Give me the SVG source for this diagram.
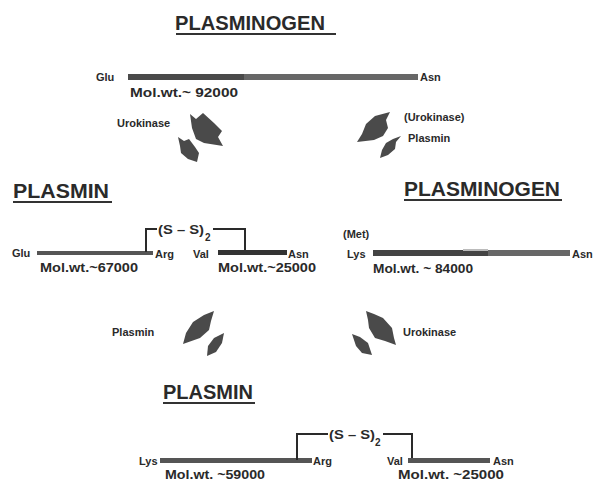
<svg xmlns="http://www.w3.org/2000/svg" width="597" height="481" viewBox="0 0 597 481">
<style>
.t{font-family:"Liberation Sans",Arial,sans-serif;font-weight:bold;font-size:21px;fill:#2a2a2a}
.l{font-family:"Liberation Sans",Arial,sans-serif;font-weight:bold;font-size:11px;fill:#2a2a2a}
.m{font-family:"Liberation Sans",Arial,sans-serif;font-weight:bold;font-size:12px;fill:#2a2a2a}
.ss{font-family:"Liberation Sans",Arial,sans-serif;font-weight:bold;font-size:13px;fill:#2a2a2a}
.s{font-family:"Liberation Sans",Arial,sans-serif;font-weight:bold;font-size:10px;fill:#2a2a2a}
.u{stroke:#333;stroke-width:2}
.br{fill:none;stroke:#2a2a2a;stroke-width:2}
.ar{fill:#4a4a4a}
</style>
<rect width="597" height="481" fill="#fff"/>
<g id="plasminogen-glu">
<text class="t" x="175" y="30" textLength="150" lengthAdjust="spacingAndGlyphs">PLASMINOGEN</text>
<line class="u" x1="176" y1="34" x2="336" y2="34"/>
<text class="l" x="96" y="81">Glu</text>
<rect x="128" y="74" width="116" height="6" fill="#4a4a4a"/>
<rect x="244" y="74" width="174" height="6" fill="#676767"/>
<text class="l" x="420" y="81">Asn</text>
<text class="m" x="130" y="97" textLength="108" lengthAdjust="spacingAndGlyphs">Mol.wt.~ 92000</text>
</g>
<g id="plasmin-glu">
<text class="t" x="13" y="198" textLength="96" lengthAdjust="spacingAndGlyphs">PLASMIN</text>
<line class="u" x1="13" y1="202" x2="112" y2="202"/>
<text class="l" x="12" y="257">Glu</text>
<rect x="37" y="251" width="116" height="4" fill="#555"/>
<text class="l" x="155" y="258">Arg</text>
<text class="m" x="40" y="272" textLength="98" lengthAdjust="spacingAndGlyphs">Mol.wt.~67000</text>
<path class="br" d="M146,252 V229 H157"/>
<text class="ss" x="158" y="234" textLength="46" lengthAdjust="spacingAndGlyphs">(S – S)</text>
<text class="s" x="205" y="241">2</text>
<path class="br" d="M213,229 H245 V252"/>
<text class="l" x="193" y="258">Val</text>
<rect x="218" y="250" width="69" height="5" fill="#333"/>
<text class="l" x="288" y="258">Asn</text>
<text class="m" x="218" y="272" textLength="98" lengthAdjust="spacingAndGlyphs">Mol.wt.~25000</text>
</g>
<g id="plasminogen-lys">
<text class="t" x="404" y="196" textLength="156" lengthAdjust="spacingAndGlyphs">PLASMINOGEN</text>
<line class="u" x1="404" y1="200" x2="562" y2="200"/>
<text class="l" x="343" y="238">(Met)</text>
<text class="l" x="347" y="258">Lys</text>
<rect x="373" y="250" width="115" height="6" fill="#444"/>
<rect x="488" y="250" width="82" height="6" fill="#676767"/>
<rect x="463" y="249" width="25" height="2" fill="#bbb"/>
<text class="l" x="572" y="258">Asn</text>
<text class="m" x="373" y="273" textLength="100" lengthAdjust="spacingAndGlyphs">Mol.wt. ~ 84000</text>
</g>
<g id="plasmin-lys">
<text class="t" x="163" y="399" textLength="90" lengthAdjust="spacingAndGlyphs">PLASMIN</text>
<line class="u" x1="163" y1="403" x2="255" y2="403"/>
<text class="l" x="139" y="465">Lys</text>
<rect x="160" y="458" width="152" height="5" fill="#555"/>
<text class="l" x="313" y="465">Arg</text>
<text class="m" x="165" y="479" textLength="100" lengthAdjust="spacingAndGlyphs">Mol.wt. ~59000</text>
<path class="br" d="M297,460 V434 H328"/>
<text class="ss" x="329" y="439" textLength="46" lengthAdjust="spacingAndGlyphs">(S – S)</text>
<text class="s" x="375" y="446">2</text>
<path class="br" d="M383,434 H412 V460"/>
<text class="l" x="387" y="465">Val</text>
<rect x="408" y="458" width="82" height="5" fill="#555"/>
<text class="l" x="493" y="465">Asn</text>
<text class="m" x="398" y="479" textLength="106" lengthAdjust="spacingAndGlyphs">Mol.wt. ~25000</text>
</g>
<g id="connectors">
<polygon class="ar" points="190,114 196,119 203,113 214,123 222,131 218,137 223,146 204,143 196,139 192,128"/>
<polygon class="ar" points="178,137 184,141 189,139 195,147 199,153 197,162 188,159 181,153 180,146"/>
<text class="l" x="117" y="127">Urokinase</text>
<polygon class="ar" points="390,112 386,120 388,128 383,136 374,140 357,142 362,134 366,124 375,116"/>
<polygon class="ar" points="401,136 396,142 395,149 388,155 380,158 382,150 386,143 393,139"/>
<text class="l" x="404" y="121">(Urokinase)</text>
<text class="l" x="408" y="142">Plasmin</text>
<polygon class="ar" points="214,311 211,321 209,330 200,338 183,344 186,333 193,322 204,315"/>
<polygon class="ar" points="224,333 222,343 216,352 207,356 208,346 214,338"/>
<text class="l" x="112" y="336">Plasmin</text>
<polygon class="ar" points="366,311 374,314 383,318 392,328 394,338 396,345 385,341 375,338 369,328 368,320"/>
<polygon class="ar" points="352,334 360,337 368,343 372,355 362,353 356,346"/>
<text class="l" x="403" y="336">Urokinase</text>
</g>
</svg>
